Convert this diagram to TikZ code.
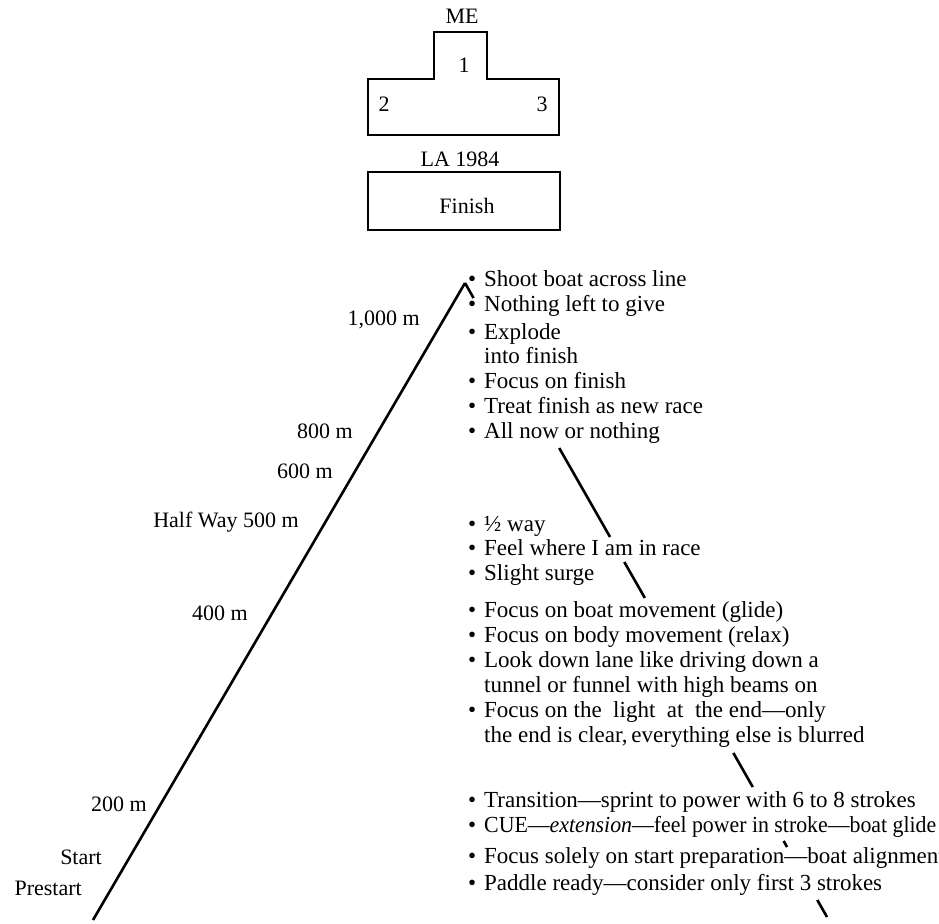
\documentclass[tikz,border=0pt]{standalone}
\usepackage{fontspec}
\usepackage{graphicx}
\setmainfont{Liberation Serif}
\usetikzlibrary{calc}
\newcommand{\bul}{\makebox[16pt][l]{\textbullet}}
\tikzset{
  lbl/.style={anchor=base east, inner sep=0pt, font=\fontsize{22}{24}\selectfont},
  itm/.style={anchor=base west, inner sep=0pt, font=\fontsize{23}{25}\selectfont},
  pod/.style={anchor=base, inner sep=0pt, font=\fontsize{22}{24}\selectfont},
  course/.style={line width=2.6pt},
  podbox/.style={line width=2.8pt, line join=miter}
}
\begin{document}
\begin{tikzpicture}[x=1pt,y=-1pt]
\useasboundingbox (0,0) rectangle (939,923);
% podium
\draw[podbox] (368,79) -- (434,79) -- (434,32) -- (487,32) -- (487,79) -- (559,79) -- (559,135) -- (368,135) -- cycle;
\node[pod] (me) at (462,24) {ME};
\node[pod] (p1) at (464,73) {1};
\node[pod] (p2) at (384,112) {2};
\node[pod] (p3) at (542,112) {3};
\node[pod] (la) at (460,166) {LA 1984};
\draw[podbox] (368,172) rectangle (560,230);
\node[pod] (fin) at (467,213) {Finish};
% course lines
\coordinate (prestartpt) at (93,920);
\coordinate (peak) at (465,283);
\coordinate (finend) at (827,917);
\draw[course] (prestartpt) -- (peak);
\draw[course] (peak) -- ($(peak)!0.0237!(finend)$);
\draw[course] ($(peak)!0.2603!(finend)$) -- ($(peak)!0.4006!(finend)$);
\draw[course] ($(peak)!0.4401!(finend)$) -- ($(peak)!0.4968!(finend)$);
\draw[course] ($(peak)!0.7413!(finend)$) -- ($(peak)!0.7950!(finend)$);
\draw[course] ($(peak)!0.8801!(finend)$) -- ($(peak)!0.8896!(finend)$);
\draw[course] ($(peak)!0.9732!(finend)$) -- (finend);
% left labels
\node[lbl] (l1000) at (420,325) {1,000 m};
\node[lbl] (l800) at (353,438) {800 m};
\node[lbl] (l600) at (333,478) {600 m};
\node[lbl] (l500) at (299,527) {Half Way 500 m};
\node[lbl] (l400) at (248,620) {400 m};
\node[lbl] (l200) at (147,811) {200 m};
\node[lbl] (lstart) at (102,864) {Start};
\node[lbl] (lpre) at (82,895) {Prestart};
% right items
\node[itm] (r1) at (468,286) {\bul Shoot boat across line};
\node[itm] (r2) at (468,311) {\bul Nothing left to give};
\node[itm] (r3) at (468,339) {\bul Explode};
\node[itm] (r3b) at (484,363) {into finish};
\node[itm] (r4) at (468,388) {\bul Focus on finish};
\node[itm] (r5) at (468,413) {\bul Treat finish as new race};
\node[itm] (r6) at (468,438) {\bul All now or nothing};
\node[itm] (r7) at (468,531) {\bul ½ way};
\node[itm] (r8) at (468,555) {\bul Feel where I am in race};
\node[itm] (r9) at (468,580) {\bul Slight surge};
\node[itm] (r10) at (468,617) {\bul Focus on boat movement (glide)};
\node[itm] (r11) at (468,642) {\bul Focus on body movement (relax)};
\node[itm] (r12) at (468,667) {\bul Look down lane like driving down a};
\node[itm] (r12b) at (484,692) {tunnel or funnel with high beams on};
\node[itm] (r13) at (468,717) {\bul Focus on the\ \ light\ \ at\ \ the end—only};
\node[itm] (r13b) at (484,742) {the end is clear,\thinspace everything else is blurred};
\node[itm] (r14) at (468,807) {\bul Transition—sprint to power with 6 to 8 strokes};
\node[itm] (r15) at (468,832) {\bul \resizebox{452pt}{\height}{CUE—\textit{extension}—feel power in stroke—boat glide}};
\node[itm] (r16) at (468,863) {\bul Focus solely on start preparation—boat alignment};
\node[itm] (r17) at (468,890) {\bul Paddle ready—consider only first 3 strokes};
\end{tikzpicture}
\end{document}
